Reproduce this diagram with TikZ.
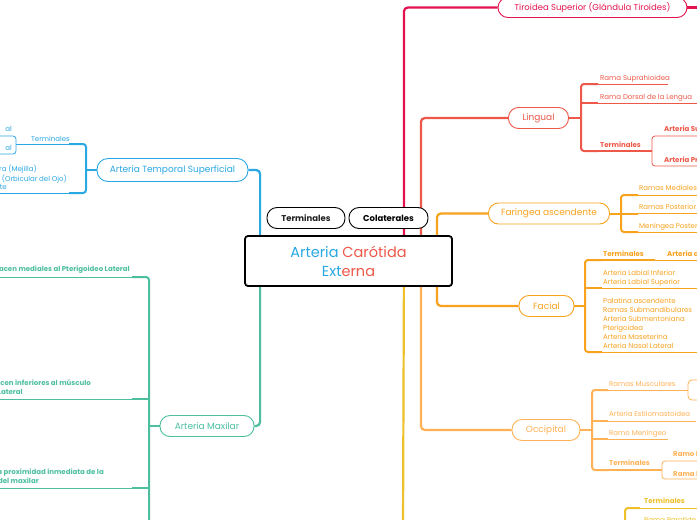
\documentclass[tikz,border=0pt]{standalone}
\usepackage{fontspec}
\setmainfont{Poppins}
\usetikzlibrary{calc,backgrounds}
\definecolor{cblue}{HTML}{2AA8E4}
\definecolor{cgreen}{HTML}{4DBF9F}
\definecolor{ccrim}{HTML}{E2134F}
\definecolor{cred}{HTML}{EE5849}
\definecolor{corange}{HTML}{F8A21E}
\definecolor{clor}{HTML}{FFB255}
\definecolor{cyel}{HTML}{EEC12A}
\definecolor{cdark}{HTML}{222222}
\begin{document}
\begin{tikzpicture}[x=1pt,y=-1pt,
  pill/.style={draw, fill=white, rounded corners=10pt, line width=0.9pt, inner sep=0pt, font=\fontsize{9}{10}\selectfont},
  conn/.style={line width=2.2pt, rounded corners=4pt},
  brk/.style={line width=2pt, rounded corners=3pt},
  midl/.style={line width=1.3pt},
  thinl/.style={line width=0.8pt},
  lbl/.style={inner sep=0pt, font=\fontsize{7}{8}\selectfont},
  blbl/.style={inner sep=0pt, font=\fontsize{7}{8}\selectfont\bfseries},
]
\useasboundingbox (0,0) rectangle (697,520);
\clip (0,0) rectangle (697,520);

% ---------- main nodes ----------
\node[pill, draw=black, line width=1.8pt, rounded corners=3pt, minimum width=207pt, minimum height=50pt,
      font=\fontsize{14.5}{19}\selectfont, align=center] (root) at (348.5,261)
  {\textcolor{cblue}{Arteria} \textcolor{cred}{Carótida}\\\textcolor{cblue}{Ext}\textcolor{cred}{erna}};
\node[pill, draw=black, text=cdark, minimum width=78pt, minimum height=21pt, font=\fontsize{8.5}{10}\selectfont\bfseries] (pterm) at (306,218) {Terminales};
\node[pill, draw=black, text=black, minimum width=79pt, minimum height=21pt, font=\fontsize{8.5}{10}\selectfont\bfseries] (pcol) at (388.5,218) {Colaterales};

\node[pill, draw=cblue, text=cblue, minimum width=151pt, minimum height=23pt, rounded corners=11pt] (ts) at (172.5,170) {Arteria Temporal Superficial};
\node[pill, draw=cgreen, text=cgreen, minimum width=94pt, minimum height=21pt] (mx) at (207,426) {Arteria Maxilar};
\node[pill, draw=ccrim, text=ccrim, minimum width=189pt, minimum height=20pt, font=\fontsize{8.5}{10}\selectfont] (tiro) at (592.5,7.5) {Tiroidea Superior (Glándula Tiroides)};
\node[pill, draw=cred, text=cred, minimum width=60pt, minimum height=21pt] (ling) at (538.5,118) {Lingual};
\node[pill, draw=corange, text=corange, minimum width=121pt, minimum height=21pt] (far) at (549,213.5) {Faringea ascendente};
\node[pill, draw=corange, text=corange, minimum width=55pt, minimum height=21pt] (fac) at (546.5,306) {Facial};
\node[pill, draw=clor, text=clor, minimum width=68pt, minimum height=21pt] (occ) at (546,430) {Occipital};

% ---------- connectors from the root ----------
\coordinate (yend) at (403,530);
\coordinate (tiroend) at (705,7.5);
\begin{scope}[on background layer]
  \fill[white] (0,0) rectangle (697,520);
  \clip (0,0) rectangle (697,520);
  \draw[conn, cblue] (ts.east) -| ($(root.north west)+(16,0)$);
  \draw[conn, cgreen] (mx.east) -| ($(root.south west)+(16,0)$);
  \draw[conn, ccrim] (tiro.west) -| ($(root.north east)+(-49,0)$);
  \draw[conn, ccrim] (tiro.east) -- (tiroend);
  \draw[conn, cred] (ling.west) -| ($(root.north east)+(-32,0)$);
  \draw[conn, corange] (far.west) -| ($(root.north east)+(-16,0)$);
  \draw[conn, corange] (fac.west) -| ($(root.south east)+(-16,0)$);
  \draw[conn, clor] (occ.west) -| ($(root.south east)+(-32,0)$);
  \draw[conn, cyel] ($(root.south east)+(-49,0)$) -- (yend);
\end{scope}

% ---------- Lingual ----------
\draw[brk,cred] (598,84) -- (581,84) -- (581,151) -- (598,151);
\draw[brk,cred] (ling.east) -- (581,118);
\draw[brk,cred] (581,103) -- (598,103);
\draw[thinl,cred] (598,84) -- (668,84) (598,103) -- (700,103);
\draw[midl,cred] (598,151) -- (652,151);
\draw[thinl,cred,rounded corners=3pt] (705,136) -- (652,136) -- (652,166) -- (705,166);
\node[lbl,text=cred,anchor=base west] (l1) at (600,80) {Rama Suprahioidea};
\node[lbl,text=cred,anchor=base west] (l2) at (600,99) {Rama Dorsal de la Lengua};
\node[blbl,text=cred,anchor=base west] (l3) at (600,147) {Terminales};
\node[blbl,text=cred,anchor=base west] (l4) at (664,131) {Arteria Su};
\node[blbl,text=cred,anchor=base west] (l5) at (664,162) {Arteria Pr};

% ---------- Faringea ascendente ----------
\draw[brk,corange] (638,195) -- (621,195) -- (621,232) -- (638,232);
\draw[brk,corange] (far.east) -- (638,213.5);
\draw[thinl,corange] (638,195) -- (700,195) (638,213.5) -- (700,213.5) (638,232) -- (700,232);
\node[lbl,text=corange,anchor=base west] (f1) at (639,190) {Ramas Mediales};
\node[lbl,text=corange,anchor=base west] (f2) at (639,209) {Ramas Posterior};
\node[lbl,text=corange,anchor=base west] (f3) at (639,228) {Meníngea Posteri};

% ---------- Facial ----------
\draw[brk,corange] (602,260) -- (585,260) -- (585,352) -- (602,352);
\draw[brk,corange] (fac.east) -- (585,306);
\draw[brk,corange] (585,288) -- (602,288);
\draw[midl,corange] (602,260) -- (655,260);
\draw[thinl,corange] (655,260) -- (700,260) (602,288) -- (700,288) (602,352) -- (700,352);
\node[blbl,text=corange,anchor=base west] (c1) at (603,256) {Terminales};
\node[blbl,text=corange,anchor=base west] (c2) at (667,256) {Arteria a};
\node[lbl,text=corange,anchor=base west] (c3) at (603,275) {Arteria Labial Inferior};
\node[lbl,text=corange,anchor=base west] (c4) at (603,284) {Arteria Labial Superior};
\node[lbl,text=corange,anchor=base west] (c5) at (603,303) {Palatina ascendente};
\node[lbl,text=corange,anchor=base west] (c6) at (603,312) {Ramas Submandibulares};
\node[lbl,text=corange,anchor=base west] (c7) at (603,321) {Arteria Submentoniana};
\node[lbl,text=corange,anchor=base west] (c8) at (603,330) {Pterigoidea};
\node[lbl,text=corange,anchor=base west] (c9) at (603,339) {Arteria Maseterina};
\node[lbl,text=corange,anchor=base west] (c10) at (603,348) {Arteria Nasal Lateral};

% ---------- Occipital ----------
\draw[brk,clor] (608,390) -- (592,390) -- (592,470) -- (608,470);
\draw[brk,clor] (occ.east) -- (592,430);
\draw[brk,clor] (592,421) -- (608,421) (592,439) -- (608,439);
\draw[thinl,clor] (608,390) -- (688,390) (608,421) -- (696,421) (608,439) -- (668,439);
\draw[midl,clor] (608,470) -- (662,470);
\draw[thinl,clor,rounded corners=4pt] (688,380) rectangle (730,400);
\draw[thinl,clor,rounded corners=3pt] (705,461) -- (662,461) -- (662,479) -- (705,479);
\node[lbl,text=clor,anchor=base west] (o1) at (609,386) {Ramas Musculares};
\node[lbl,text=clor,anchor=base west] (o2) at (609,416) {Arteria Estilomastoidea};
\node[lbl,text=clor,anchor=base west] (o3) at (609,435) {Ramo Meníngeo};
\node[blbl,text=clor,anchor=base west] (o4) at (609,465) {Terminales};
\node[blbl,text=clor,anchor=base west] (o5) at (673,456) {Ramo I};
\node[blbl,text=clor,anchor=base west] (o6) at (673,476) {Rama I};

% ---------- bottom yellow ----------
\draw[brk,cyel] (640,508) -- (625,508) -- (625,530);
\draw[thinl,cyel] (640,508) -- (700,508);
\node[blbl,text=cyel,anchor=base west] (y1) at (644,503) {Terminales};
\node[lbl,text=cyel,anchor=base west] (y2) at (644,522) {Rama Parotíde};

% ---------- Temporal superficial ----------
\draw[brk,cblue] (69,144) -- (86,144) -- (86,193) -- (69,193);
\draw[brk,cblue] (ts.west) -- (86,170);
\draw[thinl,cblue] (69,144) -- (16,144) (69,193) -- (-5,193);
\draw[thinl,cblue,rounded corners=3pt] (-5,136) -- (16,136) -- (16,154) -- (-5,154);
\node[lbl,text=cblue,anchor=base west] (t0) at (31,141) {Terminales};
\node[lbl,text=cblue,anchor=base east] (t1) at (12,131) {al};
\node[lbl,text=cblue,anchor=base east] (t2) at (12,150) {al};
\node[lbl,text=cblue,anchor=base east] (t3) at (37,171) {ra (Mejilla)};
\node[lbl,text=cblue,anchor=base east] (t4) at (67,181) {a (Orbicular del Ojo)};
\node[lbl,text=cblue,anchor=base east] (t5) at (7,189) {te};

% ---------- Maxilar ----------
\draw[brk,cgreen] (132,277) -- (149,277) -- (149,530);
\draw[brk,cgreen] (mx.west) -- (149,426);
\draw[brk,cgreen] (149,399) -- (132,399) (149,488) -- (132,488);
\draw[thinl,cgreen] (132,277) -- (-5,277) (132,399) -- (-5,399) (132,488) -- (-5,488);
\node[blbl,text=cgreen,anchor=base east] (m1) at (130,271) {acen mediales al Pterigoideo Lateral};
\node[blbl,text=cgreen,anchor=base east] (m2) at (91,385) {acen inferiores al músculo};
\node[blbl,text=cgreen,anchor=base east] (m3) at (23,394) {Lateral};
\node[blbl,text=cgreen,anchor=base east] (m4) at (104,474) {la proximidad inmediata de la};
\node[blbl,text=cgreen,anchor=base east] (m5) at (39,483) {del maxilar};
\end{tikzpicture}
\end{document}
